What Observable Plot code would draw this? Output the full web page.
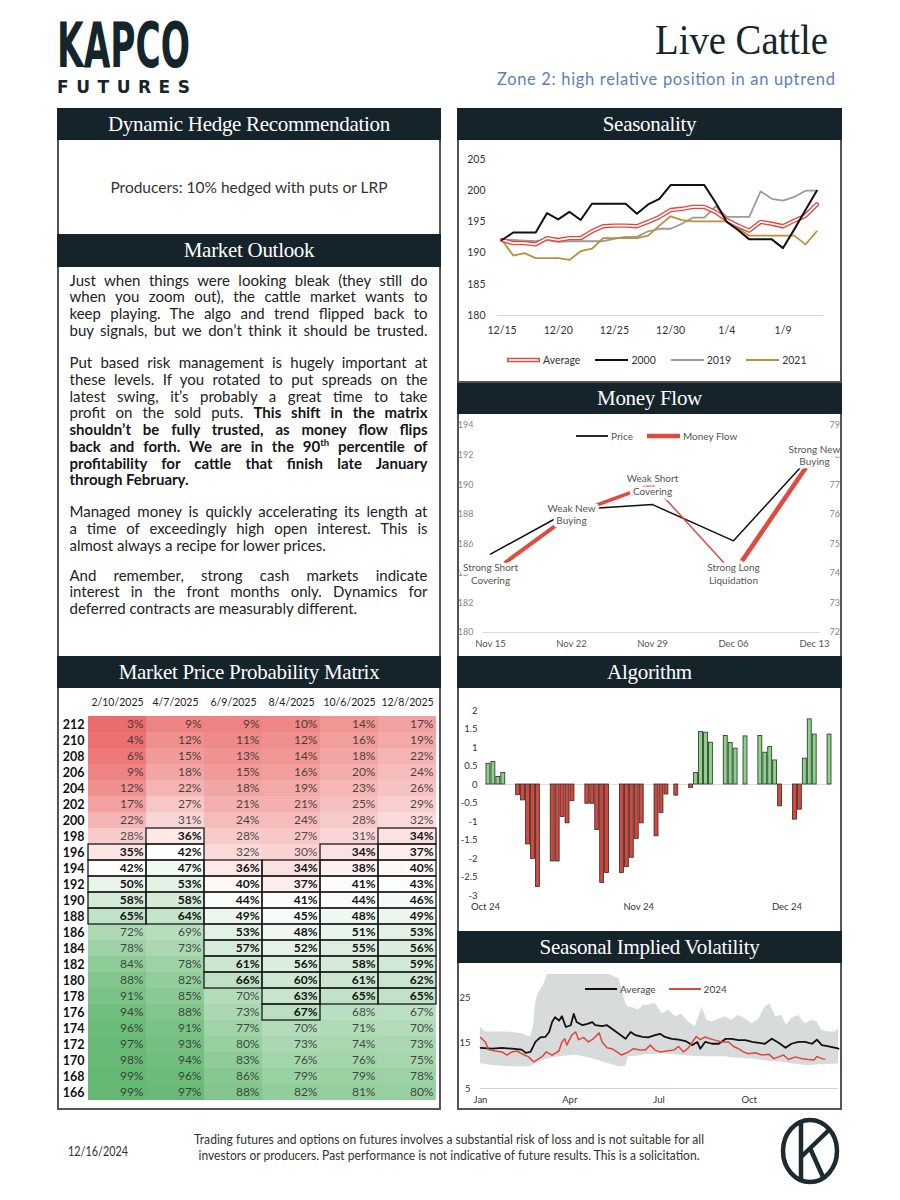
<!DOCTYPE html>
<html>
<head>
<meta charset="utf-8">
<script src="https://cdn.jsdelivr.net/npm/d3@7"></script>
<script src="https://cdn.jsdelivr.net/npm/@observablehq/plot@0.6"></script>
<style>
html, body { margin:0; padding:0; background:#fff; }
#page { position:relative; width:900px; height:1200px; overflow:hidden; font-family: Lato, "Open Sans", sans-serif; color:#222; }
.hdr { position:absolute; background:#15232a; color:#fff; font-family:"Liberation Serif","DejaVu Serif",serif; font-size:21px; letter-spacing:-0.3px; display:flex; align-items:center; justify-content:center; z-index:4; }
.frame { position:absolute; border:2px solid #545454; box-sizing:border-box; pointer-events:none; z-index:3; }
.lg { position:absolute; display:flex; align-items:center; font-family:Lato, sans-serif; white-space:nowrap; z-index:2; }
.lg svg { display:block; }
.hedge { display:flex; align-items:center; justify-content:center; font-family:Lato, sans-serif; font-size:15.5px; color:#333; }
</style>
</head>
<body>
<div id="page"></div>
<script>
// ---------------- DATA ----------------
// Seasonality (12/15 -> 1/12)
const seasonDates = ["12/15","12/16","12/17","12/18","12/19","12/20","12/21","12/22","12/23","12/24","12/25","12/26","12/27","12/28","12/29","12/30","12/31","1/1","1/2","1/3","1/4","1/5","1/6","1/7","1/8","1/9","1/10","1/11","1/12"];
const seasonAverage = [192.1,191.6,191.6,191.4,192.4,192.1,192.4,192.4,193.5,194.3,194.4,194.4,194.3,195.0,195.8,196.9,197.1,197.4,197.4,196.6,195.3,194.4,193.6,195.0,194.7,194.3,195.2,196.0,197.8];
const season2000 = [192.1,193.3,193.3,193.3,196.4,195.4,196.6,195.3,197.9,197.9,197.9,197.9,196.3,197.8,198.7,200.9,200.9,200.9,200.9,198.1,195.0,193.7,192.2,192.2,192.2,190.8,193.8,196.9,200.0];
const season2019 = [192.1,192.1,192.0,191.9,192.1,191.8,191.9,191.9,191.9,191.9,192.3,192.6,192.6,193.5,193.9,193.9,194.7,195.7,195.7,197.5,195.8,195.8,195.8,199.9,198.7,198.4,199.0,200.0,200.0];
const season2021 = [192.1,189.6,190.0,189.2,189.2,189.2,188.9,190.3,190.7,192.4,192.4,192.4,192.4,192.8,194.4,195.9,195.3,195.1,195.1,195.1,195.1,194.0,192.8,192.8,192.8,192.8,192.8,191.4,193.5];
const seasonSeries = ["Average","2000","2019","2021"];

// Money flow
const mfDates = ["Nov 15","Nov 22","Nov 29","Dec 06","Dec 13"];
const mfPrice = [185.3, 188.3, 188.65, 186.2, 192.2];
const mfFlow = [74, 76, 77, 74, 78];
const mfLabels = ["Strong Short\nCovering","Weak New\nBuying","Weak Short\nCovering","Strong Long\nLiquidation","Strong New\nBuying"];

// Algorithm
const algoDates = ["2024-10-01","2024-10-02","2024-10-03","2024-10-04","2024-10-07","2024-10-08","2024-10-09","2024-10-10","2024-10-11","2024-10-14","2024-10-15","2024-10-16","2024-10-17","2024-10-18","2024-10-21","2024-10-22","2024-10-23","2024-10-24","2024-10-25","2024-10-28","2024-10-29","2024-10-30","2024-10-31","2024-11-01","2024-11-04","2024-11-05","2024-11-06","2024-11-08","2024-11-11","2024-11-12","2024-11-13","2024-11-14","2024-11-15","2024-11-18","2024-11-19","2024-11-20","2024-11-22","2024-11-25","2024-11-26","2024-11-27","2024-11-28","2024-11-29","2024-12-02","2024-12-03","2024-12-04","2024-12-05","2024-12-06","2024-12-09"];
const algoValues = [0.56,0.61,0.20,0.31,-0.29,-0.43,-1.62,-2.01,-2.77,-2.08,-2.08,-0.88,-1.05,-0.45,-0.52,-0.52,-1.23,-2.66,-2.39,-2.39,-2.23,-1.98,-1.47,-1.05,-1.40,-0.77,-0.27,-0.30,-0.09,0.31,1.42,1.40,1.13,1.31,1.12,0.97,1.30,1.31,0.86,1.01,0.65,-0.59,-0.95,-0.68,0.70,1.76,1.35,1.35];

// Seasonal implied volatility (day of year 2024)
const ivAvgDays = [0,12,22,32,42,46,51,56,61,66,70,73,76,80,83,87,92,95,98,104,109,114,117,124,129,134,141,148,153,158,165,171,178,183,188,195,202,209,216,221,224,229,236,243,250,256,263,270,277,284,290,297,304,311,317,324,331,338,343,348,355,362,365];
const ivAvgValues = [14.0,13.8,14.0,13.8,13.6,12.9,13.1,15.3,16.3,16.4,17.5,19.7,20.8,20.0,21.0,18.6,19.0,21.5,19.7,19.0,19.3,19.7,19.0,18.8,19.0,18.2,17.1,16.0,17.5,16.8,16.4,16.3,16.8,17.1,16.4,16.0,15.8,15.5,14.6,15.3,13.8,15.3,14.9,14.9,16.0,16.0,15.7,15.7,15.3,15.1,14.9,16.0,15.1,14.0,14.9,15.3,15.3,14.9,15.8,14.6,14.3,14.0,13.8];
const iv2024Days = [0,5,8,15,22,27,32,37,42,49,54,58,63,67,73,80,83,86,88,93,97,100,105,110,115,121,124,129,134,139,144,151,156,163,168,173,178,183,190,197,202,207,212,216,220,224,229,234,239,246,253,258,263,268,273,280,287,294,299,304,309,314,321,328,334,340,343,348,351];
const iv2024Values = [16.3,15.3,13.6,13.3,13.1,12.4,13.1,13.3,12.7,12.0,10.9,11.4,12.1,13.1,12.4,13.3,15.3,16.0,14.6,16.8,17.5,15.8,16.3,15.3,16.0,17.3,15.3,14.0,13.8,13.1,12.4,13.1,13.8,13.5,13.5,14.6,13.5,13.1,13.3,13.5,14.3,13.1,14.0,15.3,16.5,15.8,16.4,16.0,15.7,15.3,15.3,14.3,13.8,13.1,12.7,12.9,12.4,12.6,11.6,12.0,12.4,11.4,12.0,11.6,11.4,11.3,12.1,11.6,11.5];
const ivBandDays = [0,5,12,29,42,51,54,56,59,65,68,80,97,114,131,141,144,148,151,154,161,166,171,178,185,192,199,205,212,219,226,231,236,243,250,256,263,270,277,284,290,295,301,307,312,317,324,331,338,343,348,355,362,365];
const ivBandHigh = [18.6,17.5,17.5,17.5,17.1,16.4,18.6,23.8,26.0,28.2,30.2,30.2,30.2,30.2,30.2,29.3,27.1,23.8,23.0,23.0,22.3,23.4,23.4,23.9,21.5,22.3,20.8,21.5,19.7,18.6,23.0,20.1,19.7,20.4,20.8,20.1,21.2,20.4,19.3,20.4,23.0,23.8,20.8,21.2,19.0,20.4,21.2,19.3,20.1,19.7,17.9,17.5,17.5,18.2];
const ivBandLow = [10.5,10.3,10.1,9.8,9.8,9.8,10.2,10.5,10.8,11.3,11.5,12.0,12.4,11.6,10.5,9.8,9.8,9.9,12.0,12.0,12.2,12.4,12.5,12.6,12.7,12.6,12.4,12.3,12.2,12.1,12.0,12.0,12.0,12.0,12.0,11.8,11.7,11.6,11.5,11.3,11.1,11.0,10.9,10.8,10.7,10.5,10.3,10.1,10.1,10.2,10.3,10.3,10.4,10.4];
const ivTickDates = ["2024-01-01","2024-04-01","2024-07-01","2024-10-01"];

// Market price probability matrix
const matrixDates = ["2/10/2025","4/7/2025","6/9/2025","8/4/2025","10/6/2025","12/8/2025"];
const matrixPrices = [212,210,208,206,204,202,200,198,196,194,192,190,188,186,184,182,180,178,176,174,172,170,168,166];
const prob_2_10 = [3,4,6,9,12,17,22,28,35,42,50,58,65,72,78,84,88,91,94,96,97,98,99,99];
const prob_4_7  = [9,12,15,18,22,27,31,36,42,47,53,58,64,69,73,78,82,85,88,91,93,94,96,97];
const prob_6_9  = [9,11,13,15,18,21,24,28,32,36,40,44,49,53,57,61,66,70,73,77,80,83,86,88];
const prob_8_4  = [10,12,14,16,19,21,24,27,30,34,37,41,45,48,52,56,60,63,67,70,73,76,79,82];
const prob_10_6 = [14,16,18,20,23,25,28,31,34,38,41,44,48,51,55,58,61,65,68,71,74,76,79,81];
const prob_12_8 = [17,19,22,24,26,29,32,34,37,40,43,46,49,53,56,59,62,65,67,70,73,75,78,80];
const likelyRangeTop = [196,198,194,194,196,198];
const likelyRangeBottom = [188,188,180,176,178,178];

// Text
const hedgeText = "Producers: 10% hedged with puts or LRP";
const outlookParagraphs = [
  ["Just when things were looking bleak (they still do",
   "when you zoom out), the cattle market wants to",
   "keep playing. The algo and trend flipped back to",
   "buy signals, but we don’t think it should be trusted."],
  ["Put based risk management is hugely important at",
   "these levels. If you rotated to put spreads on the",
   "latest swing, it’s probably a great time to take",
   "profit on the sold puts. **This shift in the matrix**",
   "**shouldn’t be fully trusted, as money flow flips**",
   "**back and forth. We are in the 90^th^ percentile of**",
   "**profitability for cattle that finish late January**",
   "**through February.**"],
  ["Managed money is quickly accelerating its length at",
   "a time of exceedingly high open interest. This is",
   "almost always a recipe for lower prices."],
  ["And remember, strong cash markets indicate",
   "interest in the front months only. Dynamics for",
   "deferred contracts are measurably different."]
];
const disclaimerLines = ["Trading futures and options on futures involves a substantial risk of loss and is not suitable for all",
  "investors or producers. Past performance is not indicative of future results. This is a solicitation."];
const reportDate = "12/16/2024";

// ---------------- LAYOUT HELPERS ----------------
const page = document.getElementById("page");
const NS = "http://www.w3.org/2000/svg";
function addDiv(x, y, w, h, cls) {
  const d = document.createElement("div");
  if (cls) d.className = cls;
  Object.assign(d.style, {position:"absolute", left:x+"px", top:y+"px", width:w+"px", height:h+"px"});
  page.appendChild(d);
  return d;
}
function header(x, y, w, h, text) { addDiv(x, y, w, h, "hdr").textContent = text; }
function legend(x, y, items, fontSize, color) {
  const d = document.createElement("div");
  d.className = "lg";
  Object.assign(d.style, {left:x+"px", top:(y-8)+"px", height:"16px", fontSize:fontSize+"px", color});
  items.forEach((it, k) => {
    const s = document.createElement("span");
    Object.assign(s.style, {display:"flex", alignItems:"center", marginLeft:(k ? it.gap : 0)+"px"});
    s.innerHTML = `<svg width="${it.w}" height="10"><line x1="0" x2="${it.w}" y1="5" y2="5" stroke="${it.stroke}" stroke-width="${it.sw}"/>` +
      (it.inner ? `<line x1="1.5" x2="${it.w-1.5}" y1="5" y2="5" stroke="#fff" stroke-width="${it.inner}"/>` : "") +
      `</svg><span style="margin-left:3px">${it.label}</span>`;
    d.appendChild(s);
  });
  page.appendChild(d);
}
const baseStyle = {fontFamily:"Lato, 'Open Sans', sans-serif", fontSize:"10px", color:"#333", background:"transparent", overflow:"visible"};

// ---------------- PAGE HEADER ----------------
const head = document.createElementNS(NS, "svg");
head.setAttribute("width", 900); head.setAttribute("height", 110);
Object.assign(head.style, {position:"absolute", left:"0px", top:"0px"});
head.innerHTML = `
<text x="57" y="67" font-family="DejaVu Sans" font-weight="bold" font-size="62" textLength="133" lengthAdjust="spacingAndGlyphs" fill="#14262b">KAPCO</text>
<text x="57" y="93" font-family="DejaVu Sans" font-weight="bold" font-size="17" textLength="133" lengthAdjust="spacing" fill="#14262b">FUTURES</text>
<text x="828" y="54" text-anchor="end" font-family="Liberation Serif" font-size="43" textLength="173" lengthAdjust="spacingAndGlyphs" fill="#14262b">Live Cattle</text>
<text x="835" y="85" text-anchor="end" font-family="Lato" font-size="16.5" textLength="338" lengthAdjust="spacing" fill="#5f80b8">Zone 2: high relative position in an uptrend</text>`;
page.appendChild(head);

// ---------------- FRAMES & HEADERS ----------------
addDiv(57, 108, 384, 1002, "frame");
addDiv(457, 108, 385, 275, "frame");
addDiv(457, 381, 385, 729, "frame");
header(57, 108, 384, 32, "Dynamic Hedge Recommendation");
header(57, 234, 384, 33, "Market Outlook");
header(57, 656, 384, 32, "Market Price Probability Matrix");
header(457, 108, 385, 32, "Seasonality");
header(457, 383, 385, 31, "Money Flow");
header(457, 656, 385, 32, "Algorithm");
header(457, 931, 385, 32, "Seasonal Implied Volatility");

// Hedge recommendation
addDiv(57, 140, 384, 94, "hedge").textContent = hedgeText;

// ---------------- MARKET OUTLOOK TEXT ----------------
const tsvg = document.createElementNS(NS, "svg");
tsvg.setAttribute("width", 384); tsvg.setAttribute("height", 389);
Object.assign(tsvg.style, {position:"absolute", left:"57px", top:"267px"});
page.appendChild(tsvg);
const paraBaselines = [285.7, 368.3, 517.3, 580.7];
const justified = [];
outlookParagraphs.forEach((lines, p) => {
  lines.forEach((line, k) => {
    const t = document.createElementNS(NS, "text");
    t.setAttribute("x", 12.5);
    t.setAttribute("y", paraBaselines[p] - 267 + k * 16.7);
    t.setAttribute("font-family", "Lato, 'Open Sans', sans-serif");
    t.setAttribute("font-size", 15);
    t.setAttribute("fill", "#222");
    let bold = false, shiftBack = false;
    line.split(/(\*\*|\^th\^)/).forEach(tok => {
      if (tok === "**") { bold = !bold; return; }
      if (!tok) return;
      const ts = document.createElementNS(NS, "tspan");
      if (bold) { ts.setAttribute("font-weight", "bold"); ts.setAttribute("fill", "#151515"); }
      if (tok === "^th^") {
        ts.textContent = "th"; ts.setAttribute("font-size", 9.5); ts.setAttribute("dy", -5.5); shiftBack = true;
      } else {
        ts.textContent = tok;
        if (shiftBack) { ts.setAttribute("dy", 5.5); shiftBack = false; }
      }
      t.appendChild(ts);
    });
    tsvg.appendChild(t);
    if (k < lines.length - 1 || p === 0) justified.push({t, spaces: (line.match(/ /g) || []).length});
  });
});
function justify() {
  justified.forEach(({t, spaces}) => {
    t.style.wordSpacing = "0px";
    const w = t.getComputedTextLength();
    t.style.wordSpacing = ((358 - w) / spaces) + "px";
  });
}
justify();
if (document.fonts && document.fonts.ready) document.fonts.ready.then(justify);

// ---------------- MATRIX ----------------
const matrixCols = [prob_2_10, prob_4_7, prob_6_9, prob_8_4, prob_10_6, prob_12_8];
const matrixRows = [];
matrixDates.forEach((d, c) => matrixPrices.forEach((p, r) => matrixRows.push({
  date: d, price: p, v: matrixCols[c][r],
  inRange: p <= likelyRangeTop[c] && p >= likelyRangeBottom[c]
})));
const matrixPlot = Plot.plot({
  width: 384, height: 421,
  marginLeft: 30, marginRight: 4, marginTop: 20, marginBottom: 1,
  style: baseStyle,
  x: {type: "band", domain: matrixDates, padding: 0, label: null},
  y: {type: "band", domain: matrixPrices, padding: 0, label: null},
  color: {type: "linear", domain: [3, 42, 99], range: ["#ea6d6c", "#ffffff", "#64b872"], interpolate: "rgb"},
  marks: [
    Plot.cell(matrixRows, {x: "date", y: "price", fill: "v", inset: 0}),
    Plot.cell(matrixRows.filter(d => d.inRange), {x: "date", y: "price", fill: "none", stroke: "#1a1a1a", strokeWidth: 1.3, inset: 0}),
    Plot.text(matrixRows.filter(d => !d.inRange), {x: "date", y: "price", text: d => d.v + "%", textAnchor: "end", dx: 26, fill: "#2a2a2a", fillOpacity: 0.85, fontSize: 12}),
    Plot.text(matrixRows.filter(d => d.inRange), {x: "date", y: "price", text: d => d.v + "%", textAnchor: "end", dx: 26, fill: "#111", fontWeight: "bold", fontSize: 12}),
    Plot.axisX({anchor: "top", tickSize: 0, tickPadding: 3, fontSize: 10.5, color: "#222"}),
    Plot.axisY({anchor: "left", tickSize: 0, tickPadding: 3, fontSize: 12.5, fontWeight: "bold", color: "#111"})
  ]
});
addDiv(57, 688, 384, 421).appendChild(matrixPlot);

// ---------------- SEASONALITY ----------------
const seasonColors = {"Average": "#e2483d", "2000": "#111111", "2019": "#9b9b9b", "2021": "#b8913c"};
const seasonValues = {"Average": seasonAverage, "2000": season2000, "2019": season2019, "2021": season2021};
const seasonRows = name => seasonValues[name].map((v, i) => ({i, v}));
const seasonPlot = Plot.plot({
  width: 385, height: 241,
  marginLeft: 40, marginRight: 19, marginTop: 19, marginBottom: 66,
  style: {...baseStyle, fontSize: "10.5px"},
  x: {domain: [-0.4, 28.6], ticks: [0, 5, 10, 15, 20, 25], tickFormat: i => seasonDates[i], tickSize: 0, tickPadding: 11, label: null},
  y: {domain: [180, 205], ticks: [180, 185, 190, 195, 200, 205], tickSize: 0, tickPadding: 12, label: null},
  marks: [
    Plot.ruleY([180], {stroke: "#d6d6d6", strokeWidth: 1.2}),
    Plot.line(seasonRows("2019"), {x: "i", y: "v", stroke: seasonColors["2019"], strokeWidth: 1.8}),
    Plot.line(seasonRows("2021"), {x: "i", y: "v", stroke: seasonColors["2021"], strokeWidth: 1.8}),
    Plot.line(seasonRows("Average"), {x: "i", y: "v", stroke: seasonColors["Average"], strokeWidth: 4.4}),
    Plot.line(seasonRows("Average"), {x: "i", y: "v", stroke: "#ffffff", strokeWidth: 1.7}),
    Plot.line(seasonRows("2000"), {x: "i", y: "v", stroke: seasonColors["2000"], strokeWidth: 2})
  ]
});
addDiv(457, 140, 385, 241).appendChild(seasonPlot);
legend(507, 359.5, seasonSeries.map((s, k) => ({
  label: s, w: 33, gap: 15, stroke: seasonColors[s], sw: s === "Average" ? 4.4 : 2, inner: s === "Average" ? 1.7 : 0
})), 10.5, "#333");

// ---------------- MONEY FLOW ----------------
const mfToPriceAxis = v => 180 + (v - 72) * 2;
const mfSegWidth = [4, 3.6, 1.5, 4.6];
const mfPts = mfDates.map((d, i) => ({d, price: mfPrice[i], flow: mfToPriceAxis(mfFlow[i]), label: mfLabels[i]}));
const mfSegs = d3.pairs(mfPts).map(([a, b], i) => ({x1: a.d, y1: a.flow, x2: b.d, y2: b.flow, w: mfSegWidth[i]}));
const mfTicks = d3.range(180, 195, 2);
const mfPlot = Plot.plot({
  width: 385, height: 242,
  marginLeft: 26, marginRight: 22, marginTop: 11, marginBottom: 24,
  style: baseStyle,
  x: {type: "point", domain: mfDates, padding: 0.067, label: null},
  y: {domain: [180, 194], label: null},
  marks: [
    Plot.ruleY([180], {stroke: "#d9d9d9", strokeWidth: 1.2}),
    Plot.axisX({tickSize: 0, tickPadding: 8, fontSize: 9.5, color: "#555"}),
    Plot.axisY({anchor: "left", ticks: mfTicks, tickSize: 0, tickPadding: 10, fontSize: 9, color: "#888"}),
    Plot.axisY({anchor: "right", ticks: mfTicks, tickFormat: v => 72 + (v - 180) / 2, tickSize: 0, tickPadding: 9, fontSize: 9, color: "#888"}),
    Plot.line(mfPts, {x: "d", y: "price", stroke: "#111", strokeWidth: 1.5}),
    Plot.link(mfSegs, {x1: "x1", y1: "y1", x2: "x2", y2: "y2", stroke: "#e04a3f", strokeWidth: "w"}),
    Plot.text(mfPts, {x: "d", y: "flow", text: "label", fill: "#555", stroke: "#fff", strokeWidth: 7, paintOrder: "stroke", strokeLinejoin: "round", fontSize: 10, lineHeight: 1.25})
  ]
});
addDiv(457, 414, 385, 242).appendChild(mfPlot);
legend(576, 436, [
  {label: "Price", w: 32, gap: 14, stroke: "#111", sw: 1.8},
  {label: "Money Flow", w: 33, gap: 14, stroke: "#e04a3f", sw: 4.4}
], 10, "#555");

// ---------------- ALGORITHM ----------------
const algoRows = algoDates.map((d, i) => ({date: new Date(d), v: algoValues[i]}));
const algoPlot = Plot.plot({
  width: 385, height: 240,
  marginLeft: 28, marginRight: 11, marginTop: 22, marginBottom: 33,
  style: baseStyle,
  x: {type: "utc", domain: [new Date("2024-10-01"), new Date("2024-12-10")], label: null},
  y: {domain: [-3, 2], label: null},
  marks: [
    Plot.axisX({ticks: [new Date("2024-10-01"), new Date("2024-11-01"), new Date("2024-12-01")], tickFormat: d3.utcFormat("%b %y"), tickSize: 0, tickPadding: 8, fontSize: 9.5, color: "#333"}),
    Plot.axisY({ticks: d3.range(-3, 2.001, 0.5), tickFormat: d => String(Math.round(d * 10) / 10), tickSize: 0, tickPadding: 8, fontSize: 9.5, color: "#333"}),
    Plot.ruleY([0], {stroke: "#dcdcdc", strokeWidth: 1.2}),
    Plot.rectY(algoRows.filter(d => d.v >= 0), {x: "date", interval: "day", y: "v", fill: "#88d486", stroke: "#2b2b2b", strokeWidth: 0.8}),
    Plot.rectY(algoRows.filter(d => d.v < 0), {x: "date", interval: "day", y: "v", fill: "#d8453a", stroke: "#2b2b2b", strokeWidth: 0.8})
  ]
});
addDiv(457, 688, 385, 240).appendChild(algoPlot);

// ---------------- SEASONAL IMPLIED VOLATILITY ----------------
const doy = day => new Date(Date.UTC(2024, 0, 1) + day * 864e5);
const ivBand = ivBandDays.map((d, i) => ({date: doy(d), lo: ivBandLow[i], hi: ivBandHigh[i]}));
const ivAvg = ivAvgDays.map((d, i) => ({date: doy(d), v: ivAvgValues[i]}));
const iv2024 = iv2024Days.map((d, i) => ({date: doy(d), v: iv2024Values[i]}));
const ivPlot = Plot.plot({
  width: 385, height: 147,
  marginLeft: 23, marginRight: 4, marginTop: 12, marginBottom: 22,
  style: baseStyle,
  x: {type: "utc", domain: [doy(0), doy(365)], label: null},
  y: {domain: [5, 30], label: null},
  marks: [
    Plot.areaY(ivBand, {x: "date", y1: "lo", y2: "hi", fill: "#d8dbdb"}),
    Plot.ruleY([5], {stroke: "#d0d0d0", strokeWidth: 1.2}),
    Plot.axisX({ticks: ivTickDates.map(d => new Date(d)), tickFormat: d3.utcFormat("%b"), tickSize: 0, tickPadding: 8, fontSize: 9.5, color: "#333"}),
    Plot.axisY({ticks: [5, 15, 25], tickSize: 0, tickPadding: 10, fontSize: 9.5, color: "#333"}),
    Plot.line(ivAvg, {x: "date", y: "v", stroke: "#111", strokeWidth: 1.8}),
    Plot.line(iv2024, {x: "date", y: "v", stroke: "#e0473c", strokeWidth: 1.5})
  ]
});
addDiv(457, 963, 385, 147).appendChild(ivPlot);
legend(585, 989, [
  {label: "Average", w: 32, gap: 13, stroke: "#111", sw: 2},
  {label: "2024", w: 32, gap: 13, stroke: "#e0473c", sw: 2}
], 10, "#444");

// ---------------- FOOTER ----------------
const foot = document.createElementNS(NS, "svg");
foot.setAttribute("width", 900); foot.setAttribute("height", 85);
Object.assign(foot.style, {position:"absolute", left:"0px", top:"1115px"});
foot.innerHTML = `
<text x="68" y="41" font-family="Lato" font-size="12.5" textLength="60" lengthAdjust="spacingAndGlyphs" fill="#333">${reportDate}</text>
<text x="449" y="29" text-anchor="middle" font-family="Lato" font-size="12.5" textLength="510" lengthAdjust="spacingAndGlyphs" fill="#333">${disclaimerLines[0]}</text>
<text x="449" y="45" text-anchor="middle" font-family="Lato" font-size="12.5" textLength="501" lengthAdjust="spacingAndGlyphs" fill="#333">${disclaimerLines[1]}</text>
<g fill="none" stroke="#1c2b2f" stroke-width="4.5" stroke-linecap="butt">
  <ellipse cx="810" cy="36" rx="27" ry="31"/>
  <line x1="801" y1="6" x2="801" y2="66"/>
  <line x1="801" y1="42" x2="829" y2="15"/>
  <line x1="810" y1="33" x2="823" y2="62"/>
</g>`;
page.appendChild(foot);
</script>
</body>
</html>
